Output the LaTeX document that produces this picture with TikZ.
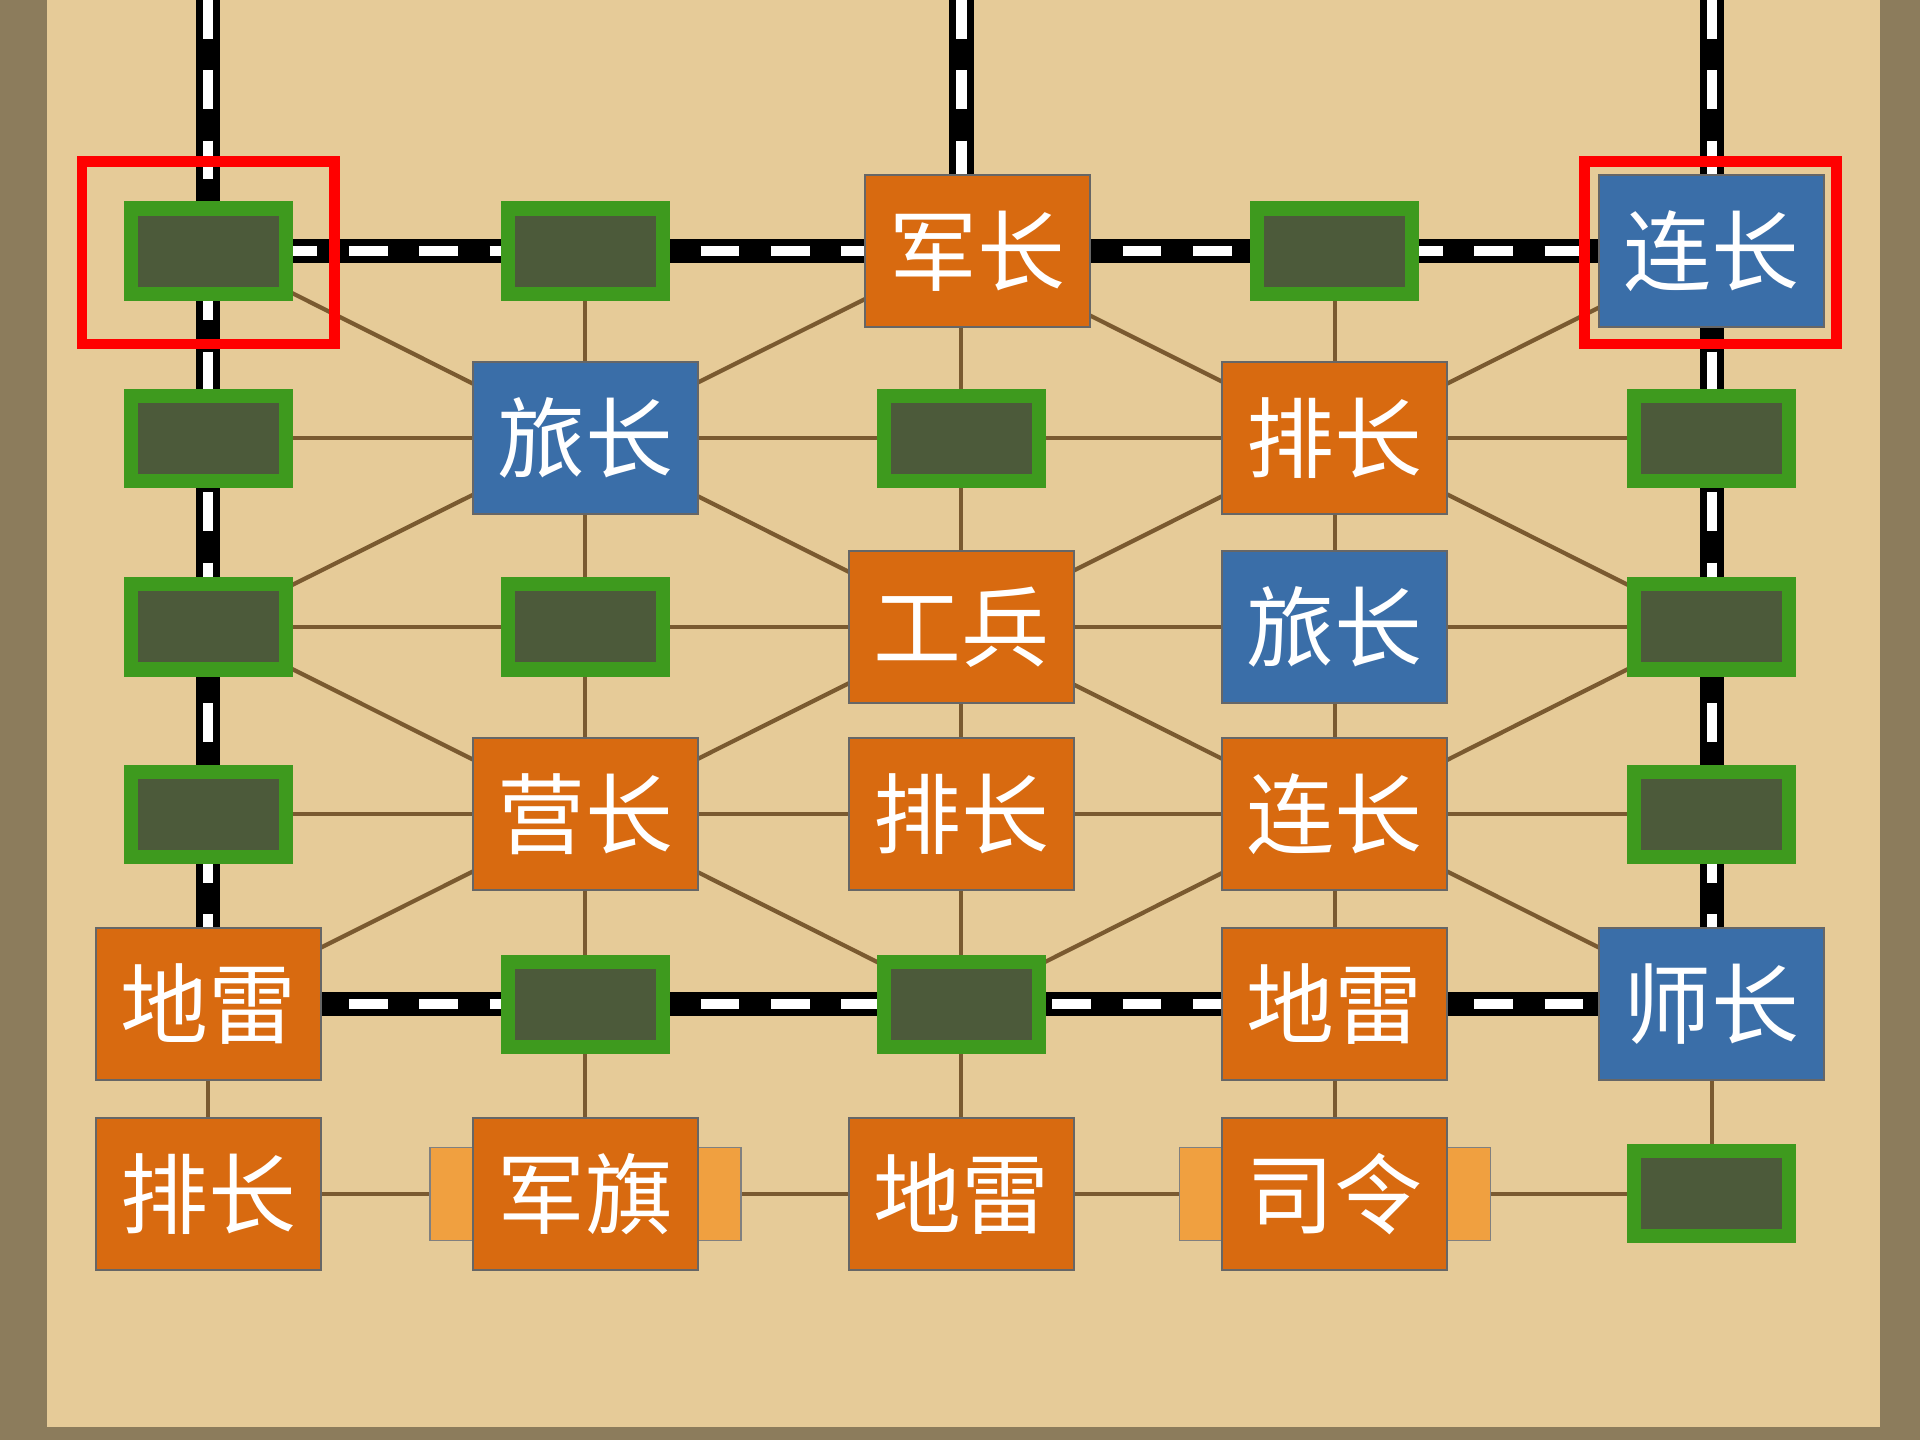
\documentclass[tikz,border=0pt]{standalone}
\usepackage{fontspec}
\newfontfamily\cjk{Noto Sans CJK SC}
\definecolor{wood}{HTML}{E6CB98}
\definecolor{frame}{HTML}{8C7C5C}
\definecolor{road}{HTML}{7A5A30}
\definecolor{slotgreen}{HTML}{3E9A1E}
\definecolor{slotfill}{HTML}{4C5A3A}
\definecolor{redpc}{HTML}{D86A10}
\definecolor{bluepc}{HTML}{3A6EA8}
\definecolor{hqtab}{HTML}{F0A040}
\begin{document}
\begin{tikzpicture}[x=0.012245cm,y=-0.012245cm]
    \tikzstyle{slot_style} = [draw=slotgreen, line width=4pt, fill=slotfill, minimum width=1.55cm, minimum height=0.85cm]
    \tikzstyle{piece_style} = [draw=black!60, line width=0.6pt, minimum width=2.25cm, minimum height=1.52cm, text=white, font=\cjk\fontsize{25}{25}\selectfont, inner sep=0pt]
    \tikzstyle{orange_piece} = [piece_style, fill=redpc]
    \tikzstyle{blue_piece} = [piece_style, fill=bluepc]
    \tikzstyle{road_style} = [road, line width=1.2pt]
    \tikzstyle{rail_black} = [black, line width=7pt]
    \tikzstyle{rail_white} = [white, line width=3pt, dash pattern=on 11pt off 9pt]
    \tikzstyle{mark_style} = [draw=red, line width=3pt]

    % board
    \useasboundingbox (0,0) rectangle (1568,1176);
    \fill[frame] (0,0) rectangle (1568,1176);
    \fill[wood] (38,0) rectangle (1535,1165);

    % grid points
    \foreach \c/\x in {1/170,2/478,3/785,4/1090,5/1398}
        \foreach \r/\y in {1/205,2/358,3/512,4/665,5/820,6/975}
            \coordinate (p\c\r) at (\x,\y);
    \coordinate (t1) at (170,0);
    \coordinate (t3) at (785,0);
    \coordinate (t5) at (1398,0);

    % roads
    \foreach \r in {2,3,4,6}
        \draw[road_style] (p1\r) -- (p5\r);
    \foreach \c in {2,3,4}
        \draw[road_style] (p\c1) -- (p\c6);
    \draw[road_style] (p15) -- (p16);
    \draw[road_style] (p55) -- (p56);
    % diagonals
    \draw[road_style] (p11) -- (p55);
    \draw[road_style] (p51) -- (p15);
    \draw[road_style] (p13) -- (p31) -- (p53);
    \draw[road_style] (p13) -- (p35) -- (p53);

    % railways
    \foreach \a/\b in {t1/p15,t3/p31,t5/p55,p11/p51,p15/p55} {
        \draw[rail_black] (\a) -- (\b);
        \draw[rail_white] (\a) -- (\b);
    }

    % headquarters tabs
    \foreach \c in {2,4}
        \fill[hqtab, draw=black!50] (p\c6) ++(-127,-38) rectangle ++(254,76);

    % empty posts
    \foreach \p in {11,21,41,12,32,52,13,23,53,14,54,25,35,56}
        \node[slot_style] (s\p) at (p\p) {};

    % pieces
    \node[orange_piece] (junzhang) at (798,205) {军长};
    \node[blue_piece] (lianzhang1) at (p51) {连长};
    \node[blue_piece] (lvzhang1) at (p22) {旅长};
    \node[orange_piece] (paizhang1) at (p42) {排长};
    \node[orange_piece] (gongbing) at (p33) {工兵};
    \node[blue_piece] (lvzhang2) at (p43) {旅长};
    \node[orange_piece] (yingzhang) at (p24) {营长};
    \node[orange_piece] (paizhang2) at (p34) {排长};
    \node[orange_piece] (lianzhang2) at (p44) {连长};
    \node[orange_piece] (dilei1) at (p15) {地雷};
    \node[orange_piece] (dilei2) at (p45) {地雷};
    \node[blue_piece] (shizhang) at (p55) {师长};
    \node[orange_piece] (paizhang3) at (p16) {排长};
    \node[orange_piece] (junqi) at (p26) {军旗};
    \node[orange_piece] (dilei3) at (p36) {地雷};
    \node[orange_piece] (siling) at (p46) {司令};

    % selection marks
    \draw[mark_style] (67,132) rectangle (273,281);
    \draw[mark_style] (1294,132) rectangle (1500,281);
\end{tikzpicture}
\end{document}
